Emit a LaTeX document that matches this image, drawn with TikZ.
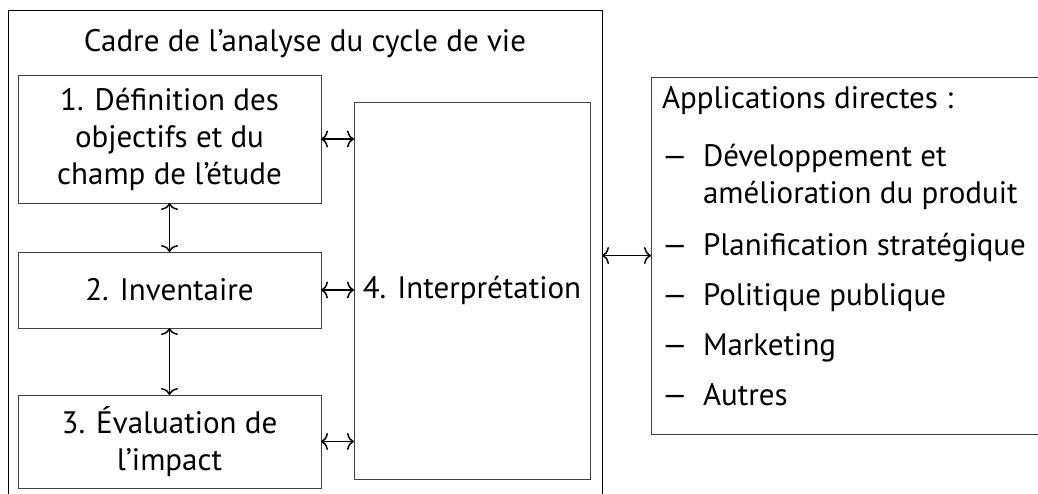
\documentclass[tikz,border=0pt]{standalone}
\usepackage{fontspec}
\setmainfont{PT Sans}
\usetikzlibrary{arrows.meta}
\begin{document}
\begin{tikzpicture}[x=1pt,y=-1pt,
  every node/.style={outer sep=0pt},
  box/.style={draw=black!75, line width=1pt, align=center, inner sep=0pt},
  arr/.style={{To[length=7pt,width=17pt]}-{To[length=7pt,width=17pt]}, line width=1.5pt},
  txt/.style={font=\fontsize{31}{37}\selectfont},
  item/.style={txt, anchor=base west, inner sep=0pt}]
\useasboundingbox (0,0) rectangle (1038,493);
\clip (0,0) rectangle (1038,493);
% outer frame
\node[draw=black, line width=1pt, minimum width=594pt, minimum height=492pt, anchor=north west] (outer) at (8,10) {};
\node[txt, anchor=base, inner sep=0pt] (title) at (305,51) {Cadre de l’analyse du cycle de vie};
% step boxes
\node[box, txt, minimum width=303pt, minimum height=128pt] (b1) at (169.5,139) {1. Définition des\\objectifs et du\\champ de l’étude};
\node[box, txt, minimum width=303pt, minimum height=76pt] (b2) at (169.5,290) {2. Inventaire};
\node[box, txt, minimum width=303pt, minimum height=93pt] (b3) at (169.5,441.5) {3. Évaluation de\\l’impact};
\node[box, txt, minimum width=236pt, minimum height=377pt] (b4) at (472,290.5) {4. Interprétation};
% applications box
\node[box, minimum width=460pt, minimum height=357pt, anchor=north west] (app) at (651,77) {};
\node[item] (a0) at (662,108) {Applications directes :};
\node[item] (d1) at (662,166) {—};
\node[item] (a1) at (703,166) {Développement et};
\node[item] (a1b) at (703,203) {amélioration du produit};
\node[item] (d2) at (662,255) {—};
\node[item] (a2) at (703,255) {Planification stratégique};
\node[item] (d3) at (662,305) {—};
\node[item] (a3) at (703,305) {Politique publique};
\node[item] (d4) at (662,355) {—};
\node[item] (a4) at (703,355) {Marketing};
\node[item] (d5) at (662,405) {—};
\node[item] (a5) at (703,405) {Autres};
% connectors
\draw[arr] (b1.south) -- (b2.north);
\draw[arr] (b2.south) -- (b3.north);
\draw[arr] (b1.east) -- (b1.east -| b4.west);
\draw[arr] (b2.east) -- (b2.east -| b4.west);
\draw[arr] (b3.east) -- (b3.east -| b4.west);
\draw[arr] (app.west -| outer.east) -- (app.west);
\end{tikzpicture}
\end{document}
